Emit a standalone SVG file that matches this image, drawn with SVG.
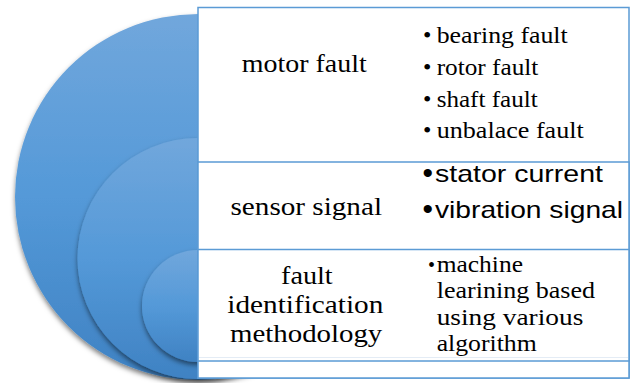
<svg xmlns="http://www.w3.org/2000/svg" width="631" height="383" viewBox="0 0 631 383">
<defs>
<linearGradient id="g1" x1="0" y1="0" x2="0" y2="1"><stop offset="0" stop-color="#71a7dc"/><stop offset="0.5" stop-color="#5499d8"/><stop offset="1" stop-color="#3f82c3"/></linearGradient>
<filter id="sh" x="-20%" y="-20%" width="140%" height="140%"><feDropShadow dx="0" dy="3" stdDeviation="2.5" flood-color="#000" flood-opacity="0.5"/></filter>
<style>
.c{fill:url(#g1);filter:url(#sh)}
.b{fill:#fff;stroke:#5b9bd5;stroke-width:1.5}
.s{font-family:'Liberation Serif',serif;fill:#000}
.n{font-family:'Liberation Sans',sans-serif;fill:#000}
</style>
</defs>
<g id="circles">
<circle class="c" cx="198" cy="197" r="183"/>
<circle class="c" cx="198" cy="258.5" r="120.5"/>
<circle class="c" cx="198" cy="306" r="56"/>
</g>
<g id="boxes">
<rect class="b" x="198" y="7.5" width="431" height="370.5"/>
<rect class="b" x="198" y="162" width="431" height="216"/>
<rect class="b" x="198" y="249.5" width="431" height="111.5"/>
<line x1="199" y1="357.5" x2="628" y2="357.5" stroke="#e4ecf5" stroke-width="1"/>
</g>
<g id="node-motor">
<text class="s" x="241.7" y="72" font-size="25" textLength="125" lengthAdjust="spacingAndGlyphs">motor fault</text>
<text class="s" x="423" y="43" font-size="24">•</text>
<text class="s" x="436.7" y="43" font-size="24" textLength="131" lengthAdjust="spacingAndGlyphs">bearing fault</text>
<text class="s" x="423" y="75" font-size="24">•</text>
<text class="s" x="436.7" y="75" font-size="24" textLength="101.6" lengthAdjust="spacingAndGlyphs">rotor fault</text>
<text class="s" x="423" y="107" font-size="24">•</text>
<text class="s" x="436.7" y="107" font-size="24" textLength="101" lengthAdjust="spacingAndGlyphs">shaft fault</text>
<text class="s" x="423" y="138" font-size="24">•</text>
<text class="s" x="436.7" y="138" font-size="24" textLength="147" lengthAdjust="spacingAndGlyphs">unbalace fault</text>
</g>
<g id="node-sensor">
<text class="s" x="230.5" y="215" font-size="25" textLength="151.5" lengthAdjust="spacingAndGlyphs">sensor signal</text>
<text class="n" x="422.5" y="183" font-size="30">•</text>
<text class="n" x="435" y="182" font-size="24" textLength="168" lengthAdjust="spacingAndGlyphs">stator current</text>
<text class="n" x="422.5" y="219" font-size="30">•</text>
<text class="n" x="435" y="218" font-size="24" textLength="188" lengthAdjust="spacingAndGlyphs">vibration signal</text>
</g>
<g id="node-method">
<text class="s" x="281" y="284" font-size="25" textLength="51.7" lengthAdjust="spacingAndGlyphs">fault</text>
<text class="s" x="227.3" y="313" font-size="25" textLength="156" lengthAdjust="spacingAndGlyphs">identification</text>
<text class="s" x="230" y="342" font-size="25" textLength="152.3" lengthAdjust="spacingAndGlyphs">methodology</text>
<text class="s" x="428" y="272" font-size="20">•</text>
<text class="s" x="436.7" y="272" font-size="23" textLength="86.3" lengthAdjust="spacingAndGlyphs">machine</text>
<text class="s" x="436.7" y="298" font-size="23" textLength="158.3" lengthAdjust="spacingAndGlyphs">learining based</text>
<text class="s" x="436.7" y="325" font-size="23" textLength="146.6" lengthAdjust="spacingAndGlyphs">using various</text>
<text class="s" x="436.7" y="351" font-size="23" textLength="100" lengthAdjust="spacingAndGlyphs">algorithm</text>
</g>
</svg>
